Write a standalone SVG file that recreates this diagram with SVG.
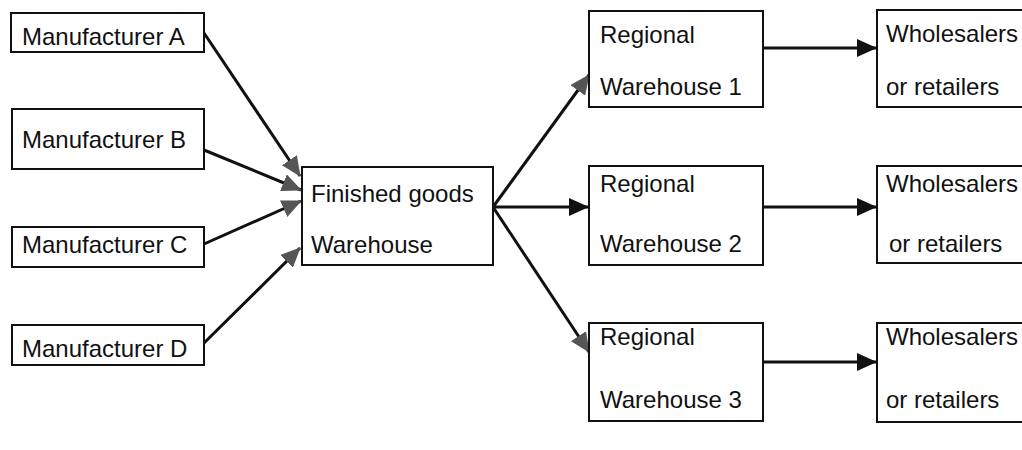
<svg xmlns="http://www.w3.org/2000/svg" width="1022" height="450" viewBox="0 0 1022 450">
<style>
.box{fill:#fff;stroke:#111;stroke-width:2}
.t{font-family:"Liberation Sans",Arial,sans-serif;font-size:24px;fill:#111}
.ln{stroke:#111;stroke-width:3;fill:none}
</style>
<defs>
<marker id="ah" markerUnits="userSpaceOnUse" viewBox="0 0 20 18" refX="19" refY="9" markerWidth="20" markerHeight="18" orient="auto"><path d="M0,0 L20,9 L0,18 z" fill="#111"/></marker>
<marker id="ag" markerUnits="userSpaceOnUse" viewBox="0 0 20 18" refX="19" refY="9" markerWidth="20" markerHeight="18" orient="auto"><path d="M0,0 L20,9 L0,18 z" fill="#555"/></marker>
</defs>
<rect width="1022" height="450" fill="#fff"/>
<g id="connectors">
<line class="ln" x1="204" y1="33" x2="300" y2="176" marker-end="url(#ag)"/>
<line class="ln" x1="204" y1="150" x2="301" y2="190" marker-end="url(#ag)"/>
<line class="ln" x1="204" y1="244" x2="301" y2="201" marker-end="url(#ag)"/>
<line class="ln" x1="204" y1="343" x2="300" y2="248" marker-end="url(#ag)"/>
<line class="ln" x1="493" y1="207" x2="589" y2="75" marker-end="url(#ag)"/>
<line class="ln" x1="493" y1="207" x2="588" y2="207" marker-end="url(#ah)"/>
<line class="ln" x1="493" y1="207" x2="589" y2="352" marker-end="url(#ag)"/>
<line class="ln" x1="763" y1="48" x2="876" y2="48" marker-end="url(#ah)"/>
<line class="ln" x1="763" y1="207" x2="876" y2="207" marker-end="url(#ah)"/>
<line class="ln" x1="763" y1="362" x2="876" y2="362" marker-end="url(#ah)"/>
</g>
<g id="mA"><rect class="box" x="11" y="13" width="193" height="39"/><text class="t" x="22" y="45">Manufacturer A</text></g>
<g id="mB"><rect class="box" x="12" y="109" width="192" height="60"/><text class="t" x="22" y="148">Manufacturer B</text></g>
<g id="mC"><rect class="box" x="12" y="227" width="192" height="40"/><text class="t" x="22" y="253">Manufacturer C</text></g>
<g id="mD"><rect class="box" x="12" y="325" width="192" height="40"/><text class="t" x="22" y="357">Manufacturer D</text></g>
<g id="fg"><rect class="box" x="302" y="167" width="191" height="98"/><text class="t" x="311" y="202">Finished goods</text><text class="t" x="311" y="253">Warehouse</text></g>
<g id="r1"><rect class="box" x="589" y="11" width="174" height="96"/><text class="t" x="600" y="43">Regional</text><text class="t" x="600" y="95">Warehouse 1</text></g>
<g id="r2"><rect class="box" x="589" y="166" width="174" height="99"/><text class="t" x="600" y="192">Regional</text><text class="t" x="600" y="252">Warehouse 2</text></g>
<g id="r3"><rect class="box" x="589" y="323" width="174" height="98"/><text class="t" x="600" y="345">Regional</text><text class="t" x="600" y="408">Warehouse 3</text></g>
<g id="w1"><rect class="box" x="877" y="10" width="150" height="97"/><text class="t" x="886" y="42">Wholesalers</text><text class="t" x="886" y="95">or retailers</text></g>
<g id="w2"><rect class="box" x="877" y="166" width="150" height="97"/><text class="t" x="886" y="192">Wholesalers</text><text class="t" x="889" y="252">or retailers</text></g>
<g id="w3"><rect class="box" x="877" y="323" width="150" height="99"/><text class="t" x="886" y="345">Wholesalers</text><text class="t" x="886" y="408">or retailers</text></g>
</svg>
